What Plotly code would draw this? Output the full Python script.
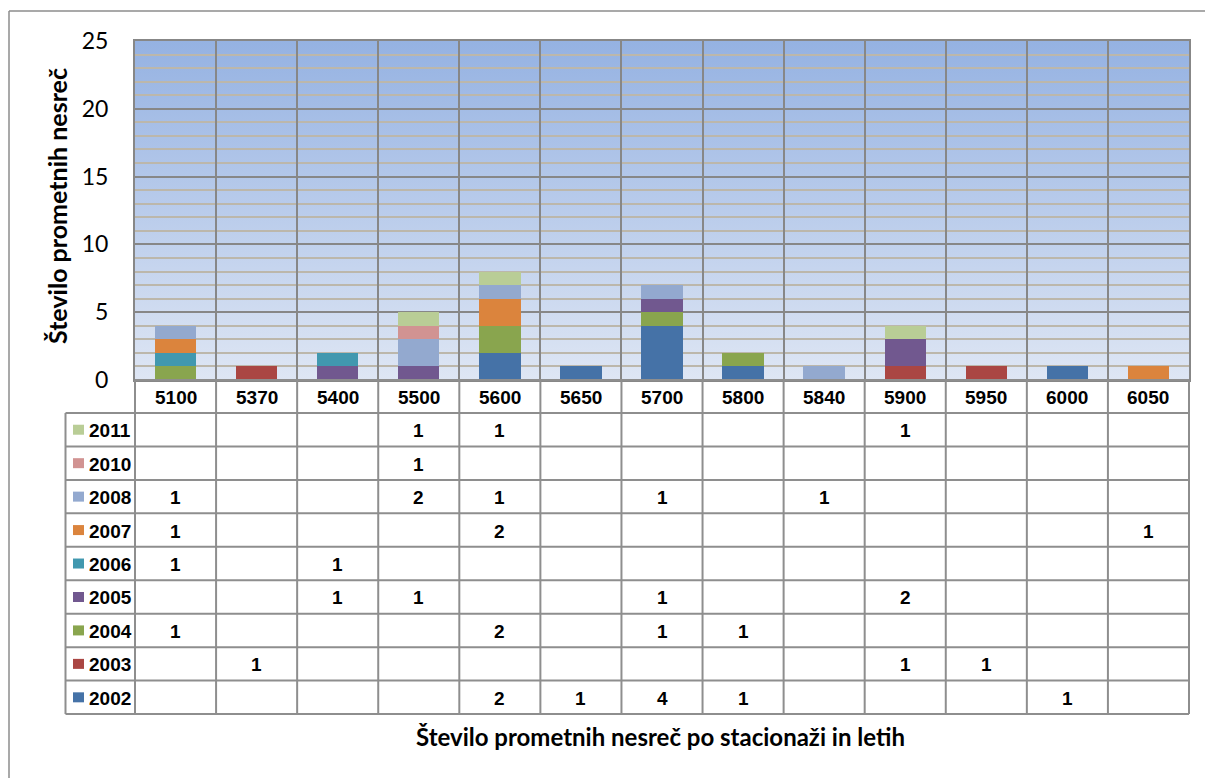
import base64
import plotly.graph_objects as go

# Stations along the road and the yearly accident counts at each one
stations = ["5100", "5370", "5400", "5500", "5600", "5650", "5700",
            "5800", "5840", "5900", "5950", "6000", "6050"]

y2002 = [None, None, None, None, 2, 1, 4, 1, None, None, None, 1, None]
y2003 = [None, 1, None, None, None, None, None, None, None, 1, 1, None, None]
y2004 = [1, None, None, None, 2, None, 1, 1, None, None, None, None, None]
y2005 = [None, None, 1, 1, None, None, 1, None, None, 2, None, None, None]
y2006 = [1, None, 1, None, None, None, None, None, None, None, None, None, None]
y2007 = [1, None, None, None, 2, None, None, None, None, None, None, None, 1]
y2008 = [1, None, None, 2, 1, None, 1, None, 1, None, None, None, None]
y2010 = [None, None, None, 1, None, None, None, None, None, None, None, None, None]
y2011 = [None, None, None, 1, 1, None, None, None, None, 1, None, None, None]

years = ["2002", "2003", "2004", "2005", "2006", "2007", "2008", "2010", "2011"]
series = [y2002, y2003, y2004, y2005, y2006, y2007, y2008, y2010, y2011]
colors = ["#4572A7", "#AA4643", "#89A54E", "#71588F", "#4198AF",
          "#DB843D", "#93A9CF", "#D19392", "#B9CD96"]

y_ticks = [0, 5, 10, 15, 20, 25]

# ---- page geometry (pixels) ----
W, H = 1205, 778
M_L, M_R, M_T = 135, 16, 41
PLOT_BOTTOM = 380
PLOT_H = PLOT_BOTTOM - M_T
PLOT_W = W - M_L - M_R

TABLE_LEFT = 65.5
HEADER_BOTTOM = 413.0
ROW_H = 33.45
TABLE_BOTTOM = HEADER_BOTTOM + ROW_H * len(years)

GRID_DARK = "#878787"
GRID_MINOR = "#BCB7AB"
TABLE_LINE = "#8E8E8E"
NARROW = "Liberation Sans Narrow, Arial Narrow, Liberation Sans, Arial, sans-serif"
CAL = "Lato, Open Sans, sans-serif"
CELL_SIZE = 19


def py(p):
    """pixel row -> paper y"""
    return (PLOT_BOTTOM - p) / PLOT_H


def px(p):
    """pixel column -> paper x"""
    return (p - M_L) / PLOT_W


fig = go.Figure()
for yr, vals, col in zip(years, series, colors):
    fig.add_trace(go.Bar(
        x=stations, y=vals, name=yr, marker_color=col,
        marker_line_width=0, width=0.51, showlegend=False,
        hoverinfo="x+y+name",
    ))

# vertical blue gradient behind the bars (SVG image stretched over the plot area)
svg = (
    '<svg xmlns="http://www.w3.org/2000/svg" width="100" height="100" '
    'preserveAspectRatio="none">'
    '<defs><linearGradient id="g" x1="0" y1="0" x2="0" y2="1">'
    '<stop offset="0" stop-color="#95B2E2"/>'
    '<stop offset="1" stop-color="#DEE6F4"/>'
    '</linearGradient></defs>'
    '<rect width="100" height="100" fill="url(#g)"/></svg>'
)
bg_src = "data:image/svg+xml;base64," + base64.b64encode(svg.encode()).decode()

shapes = []

# data table grid: horizontal rules
for k in range(len(years) + 1):
    yy = py(HEADER_BOTTOM + ROW_H * k)
    shapes.append(dict(type="line", xref="paper", yref="paper",
                       x0=px(TABLE_LEFT), x1=1, y0=yy, y1=yy,
                       line=dict(color=TABLE_LINE, width=2)))
shapes.append(dict(type="line", xref="paper", yref="paper",
                   x0=0, x1=1, y0=0, y1=0,
                   line=dict(color=TABLE_LINE, width=2)))
# vertical rules
shapes.append(dict(type="line", xref="paper", yref="paper",
                   x0=px(TABLE_LEFT), x1=px(TABLE_LEFT),
                   y0=py(HEADER_BOTTOM), y1=py(TABLE_BOTTOM),
                   line=dict(color=TABLE_LINE, width=2)))
for xe in (0, 1):
    shapes.append(dict(type="line", xref="paper", yref="paper",
                       x0=xe, x1=xe, y0=0, y1=py(TABLE_BOTTOM),
                       line=dict(color=TABLE_LINE, width=2)))
for i in range(len(stations) - 1):
    shapes.append(dict(type="line", xref="x", yref="paper",
                       x0=i + 0.5, x1=i + 0.5, y0=0, y1=py(TABLE_BOTTOM),
                       line=dict(color=TABLE_LINE, width=2)))

# outer chart frame (top and left edges)
shapes.append(dict(type="line", xref="paper", yref="paper",
                   x0=px(9), x1=1.1, y0=py(11), y1=py(11),
                   line=dict(color="#8C8C8C", width=1.5)))
shapes.append(dict(type="line", xref="paper", yref="paper",
                   x0=px(9), x1=px(9), y0=py(11), y1=py(800),
                   line=dict(color="#8C8C8C", width=1.5)))

annotations = []
# station header row
for i, s in enumerate(stations):
    annotations.append(dict(
        xref="x", yref="paper", x=i, y=py((PLOT_BOTTOM + HEADER_BOTTOM) / 2 + 1),
        xanchor="center", yanchor="middle",
        text="<b>%s</b>" % s, showarrow=False,
        font=dict(family=NARROW, size=CELL_SIZE, color="black"),
    ))

# rows of the table: legend key + counts, newest year on top
for r, (yr, vals, col) in enumerate(zip(years[::-1], series[::-1], colors[::-1])):
    yc = HEADER_BOTTOM + ROW_H * (r + 0.5)
    shapes.append(dict(type="rect", xref="paper", yref="paper",
                       x0=px(73), x1=px(84), y0=py(yc - 5), y1=py(yc + 5),
                       fillcolor=col, line=dict(width=0)))
    annotations.append(dict(
        xref="paper", yref="paper", x=px(87), y=py(yc + 1),
        xanchor="left", yanchor="middle",
        text="<b>%s</b>" % yr, showarrow=False,
        font=dict(family=NARROW, size=CELL_SIZE, color="black"),
    ))
    for i, v in enumerate(vals):
        if v is None:
            continue
        annotations.append(dict(
            xref="x", yref="paper", x=i, y=py(yc + 1),
            xanchor="center", yanchor="middle",
            text="<b>%d</b>" % v, showarrow=False,
            font=dict(family=NARROW, size=CELL_SIZE, color="black"),
        ))

# axis title and chart caption
annotations.append(dict(
    xref="paper", yref="paper", x=px(57), y=py(206),
    xanchor="center", yanchor="middle",
    text="<b>Število prometnih nesreč</b>", textangle=-90, showarrow=False,
    font=dict(family=CAL, size=25, color="black"),
))
annotations.append(dict(
    xref="paper", yref="paper", x=px(660), y=py(736),
    xanchor="center", yanchor="middle",
    text="<b>Število prometnih nesreč po stacionaži in letih</b>",
    showarrow=False, font=dict(family=CAL, size=24, color="black"),
))

fig.update_layout(
    width=W, height=H,
    margin=dict(l=M_L, r=M_R, t=M_T, b=H - PLOT_BOTTOM),
    barmode="stack",
    paper_bgcolor="white",
    plot_bgcolor="rgba(0,0,0,0)",
    images=[dict(source=bg_src, xref="paper", yref="paper", x=0, y=1,
                 sizex=1, sizey=1, sizing="stretch", xanchor="left",
                 yanchor="top", layer="below")],
    shapes=shapes,
    annotations=annotations,
    xaxis=dict(
        type="category", categoryorder="array", categoryarray=stations,
        range=[-0.5, len(stations) - 0.5],
        showticklabels=False, ticks="",
        showgrid=True, tickson="boundaries",
        gridcolor=GRID_DARK, gridwidth=2,
        showline=True, linecolor=GRID_DARK, linewidth=2, mirror=True,
        zeroline=False, fixedrange=True,
    ),
    yaxis=dict(
        range=[0, 25], tickvals=y_ticks, ticktext=[str(v) for v in y_ticks],
        ticks="", ticklabelstandoff=20,
        tickfont=dict(family=CAL, size=23, color="black"),
        showgrid=True, gridcolor=GRID_DARK, gridwidth=2,
        minor=dict(dtick=1, showgrid=True, gridcolor=GRID_MINOR, gridwidth=1.5),
        showline=True, linecolor=GRID_DARK, linewidth=2, mirror=True,
        zeroline=False, fixedrange=True,
    ),
)

fig.write_html("out.html")
